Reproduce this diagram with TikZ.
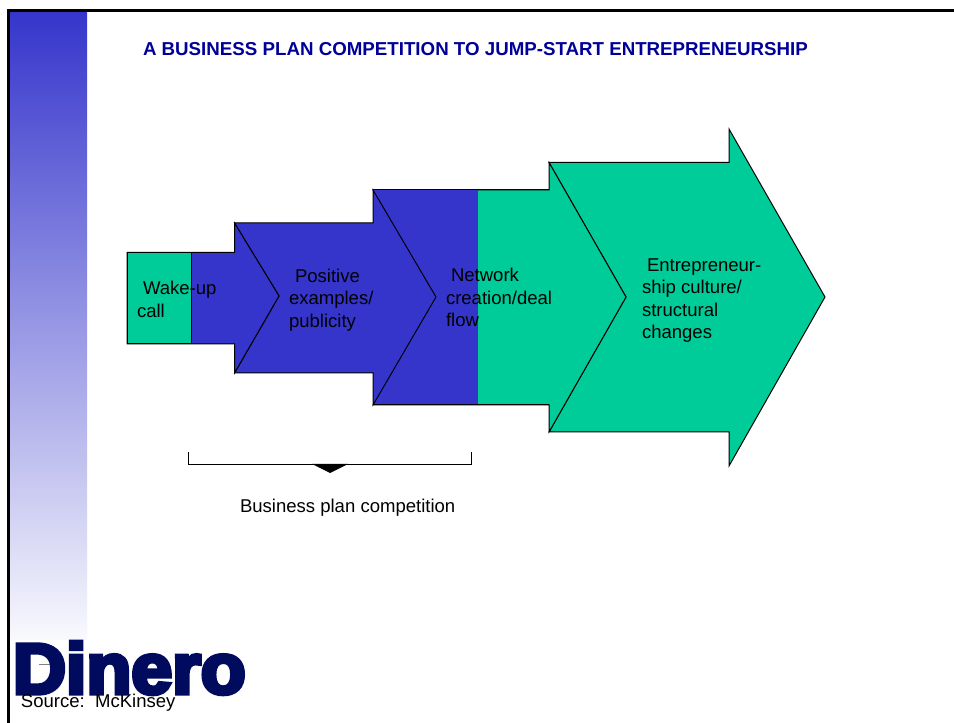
\documentclass[tikz,border=0pt]{standalone}
\usepackage{fontspec}
\setmainfont{Liberation Sans}
\newfontfamily\logofont{Liberation Sans}[BoldFeatures={FakeBold=6}]
\definecolor{dblue}{HTML}{3535CC}
\definecolor{dgreen}{HTML}{00CC99}
\definecolor{navy}{HTML}{000099}
\definecolor{logo}{HTML}{000B5E}
\tikzset{
  lbl/.style={inner sep=0pt,outer sep=0pt,align=left,anchor=north west,text=black,font=\fontsize{13.9}{16.9}\selectfont},
  edge/.style={draw=black,line width=0.75pt,line join=miter},
}
\begin{document}
\begin{tikzpicture}[x=0.75pt,y=-0.75pt]
\useasboundingbox (0,0) rectangle (954,723);
\fill[white] (0,0) rectangle (954,723);
% side bar
\shade[top color=dblue,bottom color=white!97!dblue] (9,11) rectangle (87,640);
\fill[white] (10,640) rectangle (87,723);
% frame
\draw[black,line width=2.25pt] (8.5,723) -- (8.5,10.5) -- (954,10.5);
% arrow 4
\path[fill=dgreen,edge] (549,162.5) -- (729,162.5) -- (729,129) -- (825,297) -- (729,466) -- (729,432) -- (549,432) -- (626,297) -- cycle;
% arrow 3
\path[fill=dgreen,edge] (373,190) -- (549,190) -- (549,162.5) -- (626,297) -- (549,432) -- (549,405) -- (373,405) -- (436,297) -- cycle;
\path[fill=dblue] (373,190) rectangle (478,405);
\draw[edge] (373,190) -- (549,190) (549,405) -- (373,405);
% arrow 2
\path[fill=dblue,edge] (234.5,223) -- (373,223) -- (373,190) -- (436,297) -- (373,405) -- (373,373) -- (234.5,373) -- (279,296) -- cycle;
% arrow 1
\path[fill=dblue,edge] (127,252.5) -- (234.5,252.5) -- (234.5,223) -- (279,296) -- (234.5,373) -- (234.5,344) -- (127,344) -- cycle;
\path[fill=dgreen,edge] (127,252.5) rectangle (191,344);
% labels
\node[lbl] (wake) at (137,281.5) {\hspace*{4.5pt}Wake-up\\call};
\node[lbl] (pos) at (289,269) {\hspace*{4.5pt}Positive\\examples/\\publicity};
\node[lbl] (net) at (446,268.5) {\hspace*{3.75pt}Network\\creation/deal\\flow};
\node[lbl] (ent) at (642,258.5) {\hspace*{3.75pt}Entrepreneur-\\ship culture/\\structural\\changes};
% bracket
\draw[black,line width=0.75pt] (188,452) -- (188,464.5) -- (471,464.5) -- (471,452);
\fill[black] (312,464) -- (348,464) -- (330,473) -- cycle;
\node[lbl] (bpc) at (240,499) {Business plan competition};
% title
\node[lbl,text=navy,font=\fontsize{14.04}{16}\selectfont\bfseries] (title) at (143,42) {A BUSINESS PLAN COMPETITION TO JUMP-START ENTREPRENEURSHIP};
% logo
\draw[gray,line width=0.5pt] (39,664) -- (58,664);
\node[inner sep=0pt,outer sep=0pt,anchor=base west,text=logo,font=\logofont\bfseries\fontsize{53.5}{54}\selectfont] (logotext) at (13,693.5) {\scalebox{1.03}[1]{Dinero}};
\node[lbl] (src) at (21,694) {Source:\ \ McKinsey};
\end{tikzpicture}
\end{document}
